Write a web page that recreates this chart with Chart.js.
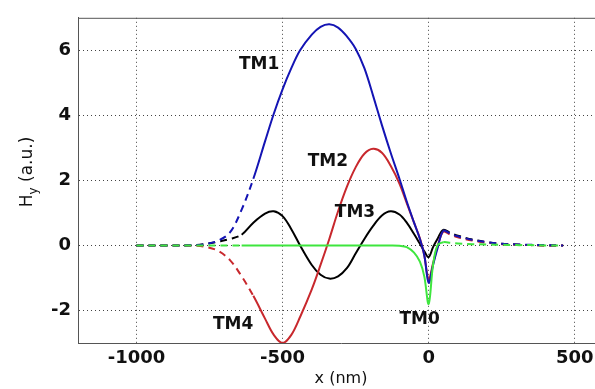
<!DOCTYPE html>
<html>
<head>
<meta charset="utf-8">
<script src="https://cdn.jsdelivr.net/npm/chart.js@4.4.1/dist/chart.umd.min.js"></script>
<style>
  html, body { margin: 0; padding: 0; background: #fff; overflow: hidden; }
  #wrap { width: 620px; height: 389px; }
</style>
</head>
<body>
<div id="wrap"><canvas id="grafico" width="620" height="389"></canvas></div>
<script>
// posições x (nm) onde as curvas foram lidas
const xs = [-1000, -900, -800, -760, -720, -680, -640, -600,
  -560, -530, -500, -470, -440, -400, -370, -340, -310, -280,
  -250, -220, -190, -160, -130, -100, -75, -50, -30, -15,
  0, 15, 30, 50, 75, 100, 150, 200, 250, 300, 350, 400, 460];

// Hy (u.a.) de cada modo
const tm0 = [0, 0, 0, 0, 0, 0, 0, 0,
  0, 0, 0, 0, 0, 0, 0, 0, 0, 0,
  0, 0, 0, 0, 0, -0.01, -0.05, -0.22, -0.5, -0.95,
  -1.8, -0.6, 0.0, 0.1, 0.08, 0.06, 0.04, 0.03, 0.02, 0.01, 0.01, 0, 0];
const tm1 = [0, 0, 0.01, 0.05, 0.15, 0.4, 1.1, 2.05,
  3.2, 4.05, 4.8, 5.45, 6.0, 6.48, 6.72, 6.8, 6.7, 6.43,
  6.05, 5.45, 4.6, 3.7, 2.85, 2.05, 1.35, 0.7, 0.2, -0.3,
  -1.15, -0.6, -0.1, 0.45, 0.36, 0.28, 0.17, 0.1, 0.05, 0.03, 0.02, 0.01, 0];
const tm2 = [0, 0, -0.01, -0.05, -0.17, -0.45, -0.95, -1.55,
  -2.25, -2.75, -3.0, -2.75, -2.2, -1.35, -0.6, 0.2, 1.05, 1.8,
  2.4, 2.82, 2.97, 2.85, 2.45, 1.9, 1.3, 0.7, 0.22, -0.3,
  -1.05, -0.55, -0.05, 0.42, 0.33, 0.25, 0.15, 0.08, 0.04, 0.02, 0.01, 0, 0];
const tm3 = [0, 0, 0.01, 0.05, 0.12, 0.2, 0.33, 0.7,
  0.98, 1.05, 0.9, 0.5, 0.0, -0.6, -0.9, -1.02, -0.95, -0.7,
  -0.25, 0.2, 0.6, 0.92, 1.05, 0.95, 0.7, 0.35, 0.05, -0.18,
  -0.36, -0.05, 0.2, 0.48, 0.38, 0.3, 0.18, 0.1, 0.05, 0.03, 0.01, 0, 0];

// nomes dos modos e onde ficam os rótulos (coordenadas dos dados)
const rotulos = ['TM0', 'TM1', 'TM2', 'TM3', 'TM4'];
const rotuloX = [-31, -580, -345, -252, -669];
const rotuloY = [-2.27, 5.55, 2.58, 1.0, -2.42];

const xTicks = [-1000, -500, 0, 500];
const yTicks = [-2, 0, 2, 4, 6];

const fonte = 'DejaVu Sans, Arial, sans-serif';

function pontos(ys) {
  return xs.map((x, i) => ({ x: x, y: ys[i] }));
}

// tracejado fora do núcleo, contínuo dentro
function serie(ys, cor, inicio) {
  return {
    data: pontos(ys),
    borderColor: cor,
    borderWidth: 2,
    pointRadius: 0,
    tension: 0.35,
    segment: {
      borderDash: c => (c.p1.parsed.x <= inicio || c.p0.parsed.x >= 50) ? [7, 5] : undefined
    }
  };
}

const extras = {
  id: 'extras',
  afterDraw(chart) {
    const ctx = chart.ctx;
    const a = chart.chartArea;
    const sx = chart.scales.x, sy = chart.scales.y;
    ctx.save();
    // linha de cima da caixa
    ctx.strokeStyle = '#555';
    ctx.lineWidth = 1;
    ctx.beginPath();
    ctx.moveTo(a.left, a.top + 0.5);
    ctx.lineTo(a.right, a.top + 0.5);
    ctx.stroke();

    // rótulos dos modos
    ctx.fillStyle = '#111';
    ctx.font = 'bold 17px ' + fonte;
    ctx.textAlign = 'center';
    ctx.textBaseline = 'middle';
    rotulos.forEach((t, i) => {
      ctx.fillText(t, sx.getPixelForValue(rotuloX[i]), sy.getPixelForValue(rotuloY[i]));
    });

    // título do eixo y com subscrito
    ctx.translate(26, 172);
    ctx.rotate(-Math.PI / 2);
    ctx.textAlign = 'left';
    ctx.textBaseline = 'alphabetic';
    const f1 = '17px ' + fonte, f2 = '12px ' + fonte;
    ctx.font = f1; const wH = ctx.measureText('H').width;
    ctx.font = f2; const wy = ctx.measureText('y').width;
    ctx.font = f1; const wR = ctx.measureText(' (a.u.)').width;
    let x0 = -(wH + wy + wR) / 2;
    ctx.font = f1; ctx.fillText('H', x0, 6);
    ctx.font = f2; ctx.fillText('y', x0 + wH, 11);
    ctx.font = f1; ctx.fillText(' (a.u.)', x0 + wH + wy, 6);
    ctx.restore();
  }
};

const ctx = document.getElementById('grafico').getContext('2d');

const grafico = new Chart(ctx, {
  type: 'line',
  data: {
    datasets: [
      serie(tm0, '#3ee63e', -640),
      serie(tm1, '#1414b4', -600),
      serie(tm2, '#c8282d', -600),
      serie(tm3, '#000000', -640)
    ]
  },
  options: {
    responsive: false,
    animation: false,
    layout: { padding: { left: 0, top: 12, right: 16, bottom: 0 } },
    plugins: { legend: { display: false }, tooltip: { enabled: false } },
    scales: {
      x: {
        type: 'linear',
        min: -1200, max: 600,
        afterBuildTicks: s => { s.ticks = xTicks.map(v => ({ value: v })); },
        afterFit: s => { s.height = 46; },
        grid: { color: '#444', drawTicks: false },
        border: { display: true, color: '#555', width: 1, dash: [1, 3] },
        ticks: { color: '#111', font: { family: fonte, size: 18, weight: 'bold' }, padding: 5, maxRotation: 0,
          callback: v => String(v) },
        title: { display: true, text: 'x (nm)', color: '#111', font: { family: fonte, size: 16 }, padding: { top: 0, bottom: 1 } }
      },
      y: {
        type: 'linear',
        min: -3, max: 7,
        afterBuildTicks: s => { s.ticks = yTicks.map(v => ({ value: v })); },
        afterFit: s => { s.width = 78; },
        grid: { color: '#444', drawTicks: false },
        border: { display: true, color: '#555', width: 1, dash: [1, 3] },
        ticks: { color: '#111', font: { family: fonte, size: 18, weight: 'bold' }, padding: 7,
          callback: v => String(v) }
      }
    }
  },
  plugins: [extras]
});
</script>
</body>
</html>
